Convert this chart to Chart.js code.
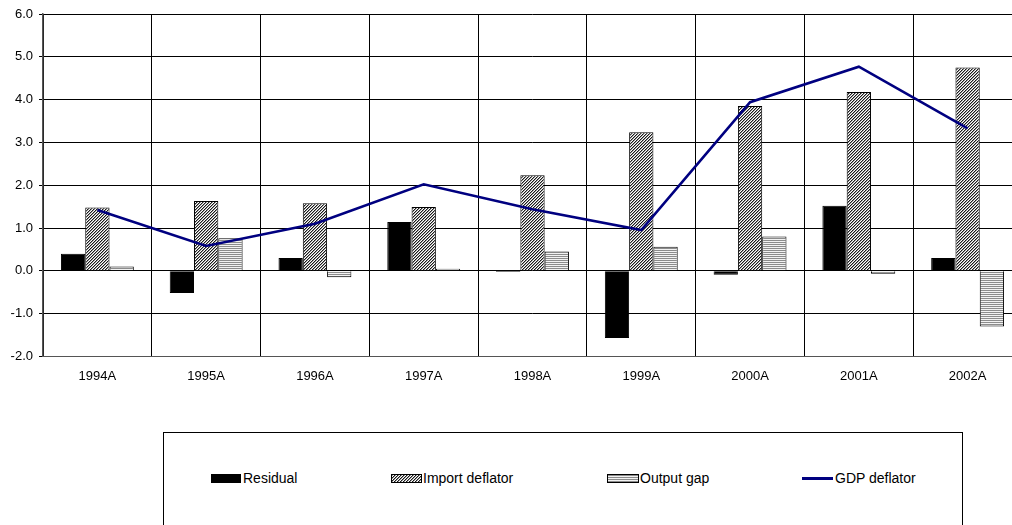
<!DOCTYPE html>
<html>
<head>
<meta charset="utf-8">
<script src="https://cdn.jsdelivr.net/npm/chart.js@4"></script>
<style>
  html, body { margin: 0; padding: 0; background: #fff; overflow: hidden; }
  body { width: 1012px; height: 525px; position: relative; font-family: "Liberation Sans", Arial, sans-serif; }
  #wrap { position: absolute; left: 0; top: 0; width: 1030px; height: 413px; }
  #legendBox { position: absolute; left: 163px; top: 432px; width: 798px; height: 120px; border: 1px solid #000; }
  .item { position: absolute; top: 470px; height: 17px; font-size: 14px; line-height: 17px; color: #000; white-space: nowrap; }
  .sw { position: absolute; top: 474px; height: 9px; box-sizing: border-box; border: 1px solid #000; }
  .ln { position: absolute; top: 477px; height: 3px; background: #000080; }
</style>
</head>
<body>
<div id="wrap"><canvas id="chart"></canvas></div>
<div id="legendBox"></div>
<div class="sw" id="swRes" style="left:211px;width:30px;background:#000;"></div>
<div class="item" style="left:243px;">Residual</div>
<div class="sw" id="swImp" style="left:391px;width:31px;"></div>
<div class="item" style="left:423px;">Import deflator</div>
<div class="sw" id="swGap" style="left:607px;width:32px;"></div>
<div class="item" style="left:640px;">Output gap</div>
<div class="ln" style="left:802px;width:31px;"></div>
<div class="item" style="left:835px;">GDP deflator</div>
<script>
// chart data
const years = ['1994A', '1995A', '1996A', '1997A', '1998A', '1999A', '2000A', '2001A', '2002A'];
const residual = [0.40, -0.52, 0.30, 1.14, -0.03, -1.57, -0.09, 1.52, 0.30];
const importDeflator = [1.48, 1.63, 1.58, 1.49, 2.23, 3.24, 3.85, 4.18, 4.75];
const outputGap = [0.10, 0.76, -0.15, 0.05, 0.45, 0.56, 0.80, -0.07, -1.30];
const gdpDeflator = [1.42, 0.58, 1.10, 2.02, 1.44, 0.95, 3.94, 4.77, 3.33];
const yTicks = [-2, -1, 0, 1, 2, 3, 4, 5, 6];

// small tiles used as fill patterns
function makeTile(w, h, draw) {
  const c = document.createElement('canvas');
  c.width = w;
  c.height = h;
  draw(c.getContext('2d'));
  return c;
}

// fine upward diagonal hatch
const hatchTile = makeTile(3, 3, (g) => {
  g.fillStyle = '#fff';
  g.fillRect(0, 0, 3, 3);
  for (let i = 0; i < 3; i++) {
    g.fillStyle = '#1a1a1a';
    g.fillRect(i, 2 - i, 1, 1);
    g.fillStyle = '#9a9a9a';
    g.fillRect((i + 1) % 3, 2 - i, 1, 1);
  }
});

// thin horizontal stripes
const stripeTile = makeTile(2, 2, (g) => {
  g.fillStyle = '#f2f2f2';
  g.fillRect(0, 0, 2, 2);
  g.fillStyle = '#8c8c8c';
  g.fillRect(0, 0, 2, 1);
});

const ctx = document.getElementById('chart').getContext('2d');
const hatch = ctx.createPattern(hatchTile, 'repeat');
const stripes = ctx.createPattern(stripeTile, 'repeat');

document.getElementById('swImp').style.background = `url(${hatchTile.toDataURL()})`;
document.getElementById('swGap').style.background = `url(${stripeTile.toDataURL()})`;

const tickFont = { family: '"Liberation Sans", Arial, sans-serif', size: 13 };

new Chart(ctx, {
  type: 'bar',
  data: {
    labels: years,
    datasets: [
      {
        type: 'line',
        label: 'GDP deflator',
        data: gdpDeflator,
        borderColor: '#000080',
        borderWidth: 2.6,
        pointRadius: 0,
        tension: 0,
        fill: false,
        order: 0
      },
      { label: 'Residual', data: residual, backgroundColor: '#000', borderColor: '#000', borderWidth: 1, order: 1 },
      { label: 'Import deflator', data: importDeflator, backgroundColor: hatch, borderColor: '#000', borderWidth: 1, order: 1 },
      { label: 'Output gap', data: outputGap, backgroundColor: stripes, borderColor: '#000', borderWidth: 1, order: 1 }
    ]
  },
  options: {
    responsive: true,
    maintainAspectRatio: false,
    animation: false,
    datasets: {
      bar: { barPercentage: 1, categoryPercentage: 0.67 }
    },
    layout: { padding: { top: 14, right: 8, bottom: 17, left: 0 } },
    plugins: {
      legend: { display: false },
      tooltip: { enabled: false }
    },
    scales: {
      x: {
        offset: true,
        grid: { color: '#000', lineWidth: 1, offset: true, drawTicks: false },
        border: { color: '#555', width: 1 },
        ticks: { color: '#000', font: tickFont, padding: 12, maxRotation: 0, autoSkip: false }
      },
      y: {
        min: -2,
        max: 6,
        afterBuildTicks: (scale) => { scale.ticks = yTicks.map(v => ({ value: v })); },
        afterFit: (scale) => { scale.width = 43; },
        grid: { color: '#000', lineWidth: 1, tickLength: 4 },
        border: { color: '#555', width: 1.5 },
        ticks: { color: '#000', font: tickFont, padding: 6, callback: (v) => Number(v).toFixed(1) }
      }
    }
  }
});
</script>
</body>
</html>
